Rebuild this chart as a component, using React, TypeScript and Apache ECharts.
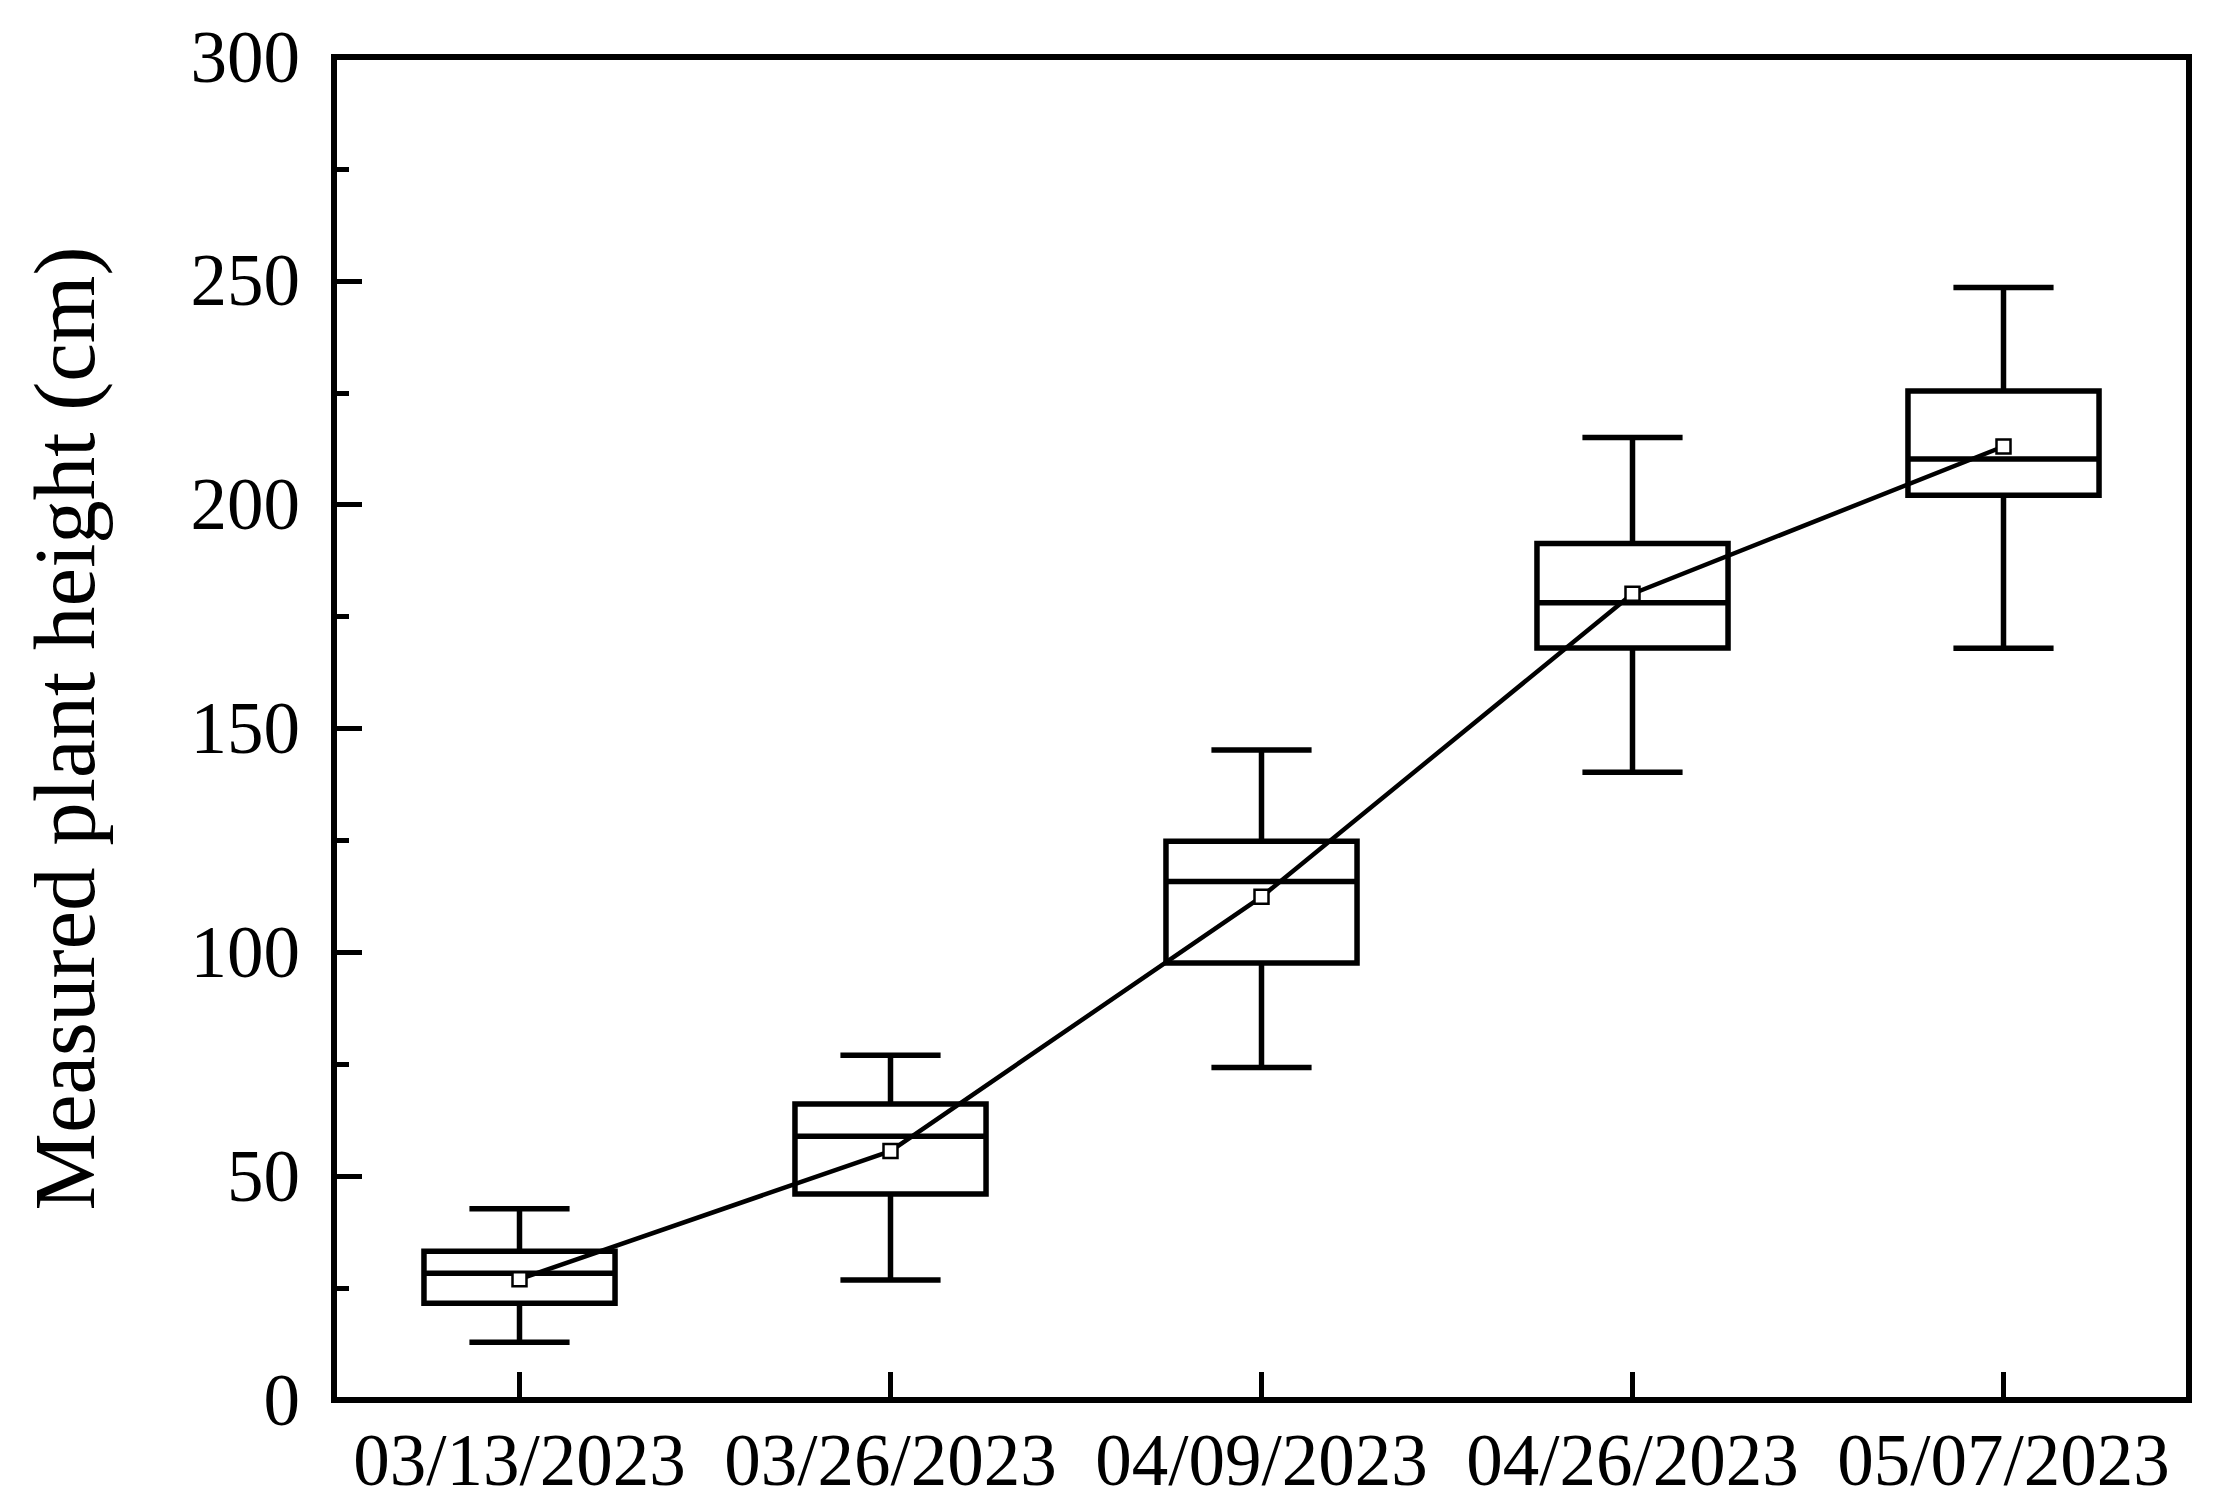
import React, { useEffect, useRef } from "react";
import * as echarts from "echarts";

const categories = ["03/13/2023", "03/26/2023", "04/09/2023", "04/26/2023", "05/07/2023"];
const whiskerLow = [12.9, 26.8, 74.3, 140.2, 167.9];
const q1 = [21.6, 46.0, 97.6, 168.0, 202.1];
const median = [28.3, 58.9, 115.8, 178.1, 210.2];
const q3 = [33.2, 66.1, 124.8, 191.3, 225.4];
const whiskerHigh = [42.7, 77.0, 145.2, 215.0, 248.5];
const means = [27.0, 55.6, 112.4, 180.1, 213.0];
const yTicks = [0, 50, 100, 150, 200, 250, 300];

const FONT = "'Liberation Serif', 'Times New Roman', serif";

export default function App() {
  const ref = useRef<HTMLDivElement>(null);
  useEffect(() => {
    document.body.style.margin = "0";
    const chart = echarts.init(ref.current!, null, { renderer: "svg" });
    const boxData = categories.map((_, i) => [i, whiskerLow[i], q1[i], median[i], q3[i], whiskerHigh[i]]);
    const stroke = { stroke: "#000", lineWidth: 5.5, fill: "none" };
    chart.setOption({
      animation: false,
      backgroundColor: "#fff",
      grid: {
        left: 334,
        right: 31,
        top: 57,
        bottom: 109,
        show: true,
        borderColor: "#000",
        borderWidth: 6,
        backgroundColor: "#fff",
        outerBoundsMode: "none",
      },
      xAxis: {
        type: "category",
        data: categories,
        boundaryGap: true,
        axisLine: { show: true, lineStyle: { color: "#000", width: 6 } },
        axisTick: { show: true, inside: true, alignWithLabel: true, length: 28, lineStyle: { color: "#000", width: 5 } },
        axisLabel: { interval: 0, color: "#000", fontFamily: FONT, fontSize: 73, margin: 24 },
        splitLine: { show: false },
      },
      yAxis: {
        type: "value",
        min: yTicks[0],
        max: yTicks[yTicks.length - 1],
        interval: 50,
        name: "Measured plant height (cm)",
        nameLocation: "middle",
        nameGap: 226,
        nameTextStyle: { color: "#000", fontFamily: FONT, fontSize: 87 },
        axisLine: { show: true, lineStyle: { color: "#000", width: 6 } },
        axisTick: { show: true, inside: true, length: 28, lineStyle: { color: "#000", width: 5 } },
        minorTick: { show: true, splitNumber: 2, length: 15, lineStyle: { color: "#000", width: 5 } },
        axisLabel: { color: "#000", fontFamily: FONT, fontSize: 73, margin: 34 },
        splitLine: { show: false },
        minorSplitLine: { show: false },
      },
      series: [
        {
          type: "custom",
          data: boxData,
          encode: { x: 0, y: [1, 2, 3, 4, 5] },
          z: 2,
          renderItem: (params: any, api: any) => {
            const idx = api.value(0);
            const lo = api.coord([idx, api.value(1)]);
            const b1 = api.coord([idx, api.value(2)]);
            const md = api.coord([idx, api.value(3)]);
            const b3 = api.coord([idx, api.value(4)]);
            const hi = api.coord([idx, api.value(5)]);
            const band = api.size([1, 0])[0];
            const bw = band * 0.515;
            const cw = band * 0.27;
            const cx = lo[0];
            return {
              type: "group",
              children: [
                { type: "line", shape: { x1: cx, y1: hi[1], x2: cx, y2: b3[1] }, style: stroke },
                { type: "line", shape: { x1: cx, y1: b1[1], x2: cx, y2: lo[1] }, style: stroke },
                { type: "line", shape: { x1: cx - cw / 2, y1: hi[1], x2: cx + cw / 2, y2: hi[1] }, style: stroke },
                { type: "line", shape: { x1: cx - cw / 2, y1: lo[1], x2: cx + cw / 2, y2: lo[1] }, style: stroke },
                { type: "rect", shape: { x: cx - bw / 2, y: b3[1], width: bw, height: b1[1] - b3[1] }, style: stroke },
                { type: "line", shape: { x1: cx - bw / 2, y1: md[1], x2: cx + bw / 2, y2: md[1] }, style: stroke },
              ],
            };
          },
        },
        {
          type: "line",
          data: means,
          z: 3,
          symbol: "rect",
          symbolSize: 14,
          lineStyle: { color: "#000", width: 4.5 },
          itemStyle: { color: "#fff", borderColor: "#000", borderWidth: 2.5 },
        },
      ],
    });
    return () => chart.dispose();
  }, []);
  return <div ref={ref} style={{ width: 2220, height: 1509 }} />;
}
